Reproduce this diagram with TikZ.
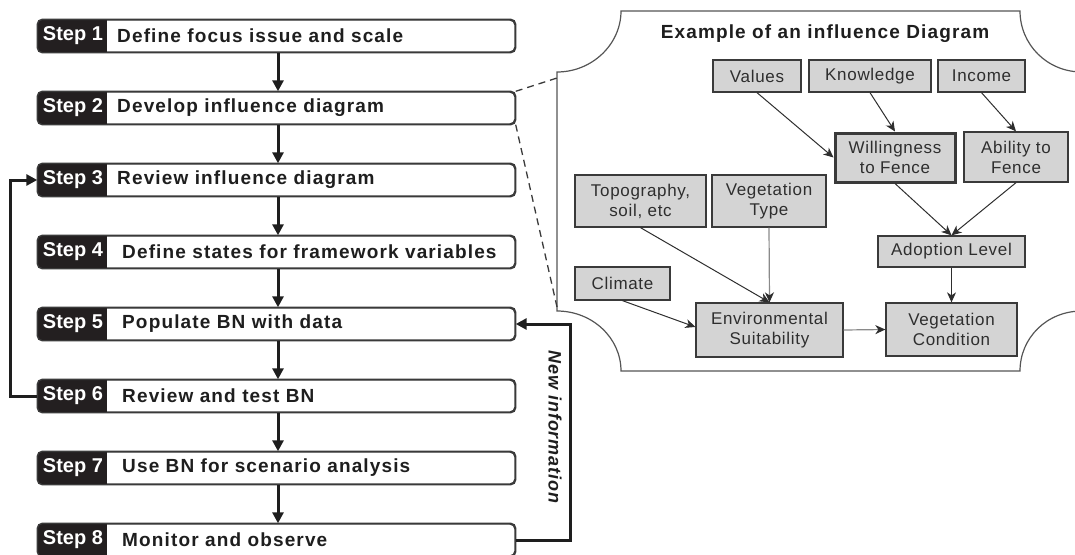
\documentclass[tikz,border=0pt]{standalone}
\usepackage{fontspec}
\setmainfont{Liberation Sans}
\newfontfamily\descfont[LetterSpace=6]{Liberation Sans}
\newfontfamily\titfont[LetterSpace=6]{Liberation Sans}
\newfontfamily\nifont[LetterSpace=5]{Liberation Sans}
\newfontfamily\inflfont[LetterSpace=4]{Liberation Sans}
\usetikzlibrary{arrows.meta,calc}
\definecolor{ink}{HTML}{1E1E1E}
\definecolor{inktwo}{HTML}{2E2E2E}
\definecolor{stepdark}{HTML}{231F20}
\definecolor{boxgray}{HTML}{D4D4D4}
\definecolor{lineg}{HTML}{3A3A3A}
\definecolor{panelg}{HTML}{555555}
\definecolor{lightline}{HTML}{8A8A8A}
\tikzset{
  stepbox/.style={draw=lineg, line width=1.4pt, rounded corners=5pt, fill=white,
    minimum width=477pt, minimum height=32pt, inner sep=0pt},
  stepborder/.style={draw=lineg, line width=1.4pt, rounded corners=5pt},
  steplabel/.style={text=white, font=\fontsize{20}{22}\selectfont\bfseries, inner sep=0pt},
  steptext/.style={anchor=west, text=ink, font=\descfont\fontsize{19}{22}\selectfont\bfseries, inner sep=0pt},
  flow/.style={line width=3pt, draw=ink, -{Triangle[length=11pt,width=11pt]}},
  inf/.style={draw=lineg, line width=1.3pt, fill=boxgray, inner sep=0pt, align=center,
    font=\inflfont\fontsize{17}{20}\selectfont, text=inktwo},
  infarrow/.style={line width=1pt, draw=inktwo, -{Stealth[length=10pt,width=9pt,inset=3pt]}},
  lightarrow/.style={line width=1.2pt, draw=lightline, -{Stealth[length=10pt,width=9pt,inset=3pt,color=inktwo]}},
  panel/.style={draw=panelg, line width=1.2pt},
  zoomline/.style={draw=lineg, line width=1.3pt, dash pattern=on 7pt off 5pt},
}
\begin{document}
\begin{tikzpicture}[x=1pt,y=-1pt]
\useasboundingbox (0,0) rectangle (1075,554);
\clip (0,0) rectangle (1075,554);

% ---------- step boxes ----------
\foreach \i/\yy/\tx/\txt in {
  1/36/117/Define focus issue and scale,
  2/108/117/Develop influence diagram,
  3/180/117/Review influence diagram,
  4/252/122/Define states for framework variables,
  5/324/122/Populate BN with data,
  6/396/122/Review and test BN,
  7/468/122/Use BN for scenario analysis,
  8/540/122/Monitor and observe}{
  \node[stepbox] (s\i) at (276.5,\yy) {};
  \begin{scope}
    \clip[rounded corners=5pt] (s\i.south west) rectangle (s\i.north east);
    \fill[stepdark] (s\i.south west) rectangle ([xshift=70pt]s\i.north west);
  \end{scope}
  \draw[stepborder] (s\i.south west) rectangle (s\i.north east);
  \node[steplabel] (l\i) at (73,\yy) {Step \i};
  \node[steptext] (t\i) at (\tx,\yy) {\txt};
}

% ---------- flow arrows ----------
\foreach \i [evaluate=\i as \j using {int(\i+1)}] in {1,...,7}{
  \draw[flow] ([xshift=1.5pt]s\i.south) -- ([xshift=1.5pt]s\j.north);
}
\draw[flow] (s6.west) -- ++(-27,0) |- (s3.west);
\draw[flow] (s8.east) -- ++(55,0) |- (s5.east);
\node[rotate=-90, text=ink, inner sep=0pt,
  font=\nifont\fontsize{18}{20}\selectfont\bfseries\itshape] (newinfo) at (555,427) {New information};

% ---------- panel ----------
\coordinate (pA) at (557,78);
\coordinate (pB) at (557,307);
\draw[panel] (557,72) -- (557,311)
  .. controls (592.3,311) and (621,337.9) .. (621,371)
  -- (1020,371)
  .. controls (1020,337.9) and (1046.7,311) .. (1082,311)
  -- (1082,72)
  .. controls (1046.7,72) and (1020,44.1) .. (1020,11)
  -- (621,11)
  .. controls (621,44.1) and (592.3,72) .. (557,72) -- cycle;
\draw[zoomline] (s2.north east) -- (pA);
\draw[zoomline] (s2.south east) -- (pB);

\node[text=ink, inner sep=0pt, font=\titfont\fontsize{19}{22}\selectfont\bfseries] (title) at (825,34) {Example of an influence Diagram};

% ---------- influence nodes ----------
\node[inf, minimum width=88pt,  minimum height=32pt] (val) at (757,76) {Values};
\node[inf, minimum width=122pt, minimum height=32pt] (kno) at (870,76) {Knowledge};
\node[inf, minimum width=87pt,  minimum height=32pt] (inc) at (981.5,76) {Income};
\node[inf, line width=3pt, minimum width=120pt, minimum height=49pt] (wil) at (895,157.5) {Willingness\\to Fence};
\node[inf, minimum width=104pt, minimum height=50pt] (abi) at (1016,157) {Ability to\\Fence};
\node[inf, minimum width=131pt, minimum height=52pt] (top) at (640.5,201) {Topography,\\soil, etc};
\node[inf, minimum width=114pt, minimum height=52pt] (vty) at (769,201) {Vegetation\\Type};
\node[inf, minimum width=147pt, minimum height=31pt] (ado) at (951.5,251.5) {Adoption Level};
\node[inf, minimum width=95pt,  minimum height=33pt] (cli) at (622.5,283.5) {Climate};
\node[inf, minimum width=147pt, minimum height=54pt] (env) at (769.5,330) {Environmental\\Suitability};
\node[inf, minimum width=131pt, minimum height=53pt] (vco) at (951.5,329.5) {Vegetation\\Condition};

% ---------- influence arrows ----------
\draw[infarrow] (val.south) -- (wil.west);
\draw[infarrow] (kno.south) -- (wil.north);
\draw[infarrow] (inc.south) -- (abi.north);
\draw[infarrow] (wil.south) -- (ado.north);
\draw[infarrow] (abi.south) -- (ado.north);
\draw[infarrow] (top.south) -- (env.north);
\draw[lightarrow] (vty.south) -- (env.north);
\draw[infarrow] (cli.south) -- ([yshift=3pt]env.west);
\draw[lightarrow] (env.east) -- (vco.west);
\draw[infarrow] (ado.south) -- (vco.north);
\end{tikzpicture}
\end{document}
